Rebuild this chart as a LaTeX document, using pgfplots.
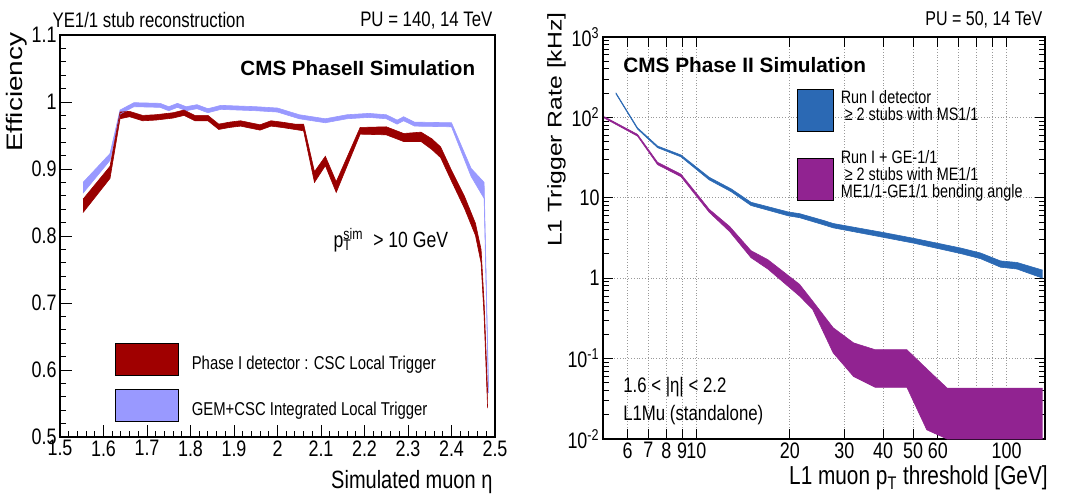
\documentclass[border=0pt]{standalone}
\usepackage{fontspec}
\setmainfont{Liberation Sans}[FakeStretch=0.8]
\newfontfamily\titlefont{Liberation Sans}
\newfontfamily\rotfont{Liberation Sans}[FakeStretch=1.25]
\usepackage{pgfplots}
\usepackage{pgfplotstable}
\pgfplotsset{compat=1.18}
\usepgfplotslibrary{fillbetween}
\definecolor{cmsred}{RGB}{153,0,0}
\definecolor{legred}{RGB}{160,0,0}
\definecolor{cmslav}{RGB}{153,153,255}
\definecolor{runblue}{RGB}{43,105,180}
\definecolor{gepurple}{RGB}{145,35,145}

% Phase I detector : CSC Local Trigger
\pgfplotstableread{
x lo hi
1.553 0.835 0.855
1.615 0.886 0.904
1.638 0.975 0.985
1.660 0.978 0.986
1.690 0.972 0.980
1.720 0.973 0.981
1.760 0.976 0.984
1.785 0.980 0.988
1.810 0.972 0.980
1.840 0.972 0.980
1.865 0.959 0.967
1.890 0.962 0.970
1.915 0.964 0.972
1.960 0.958 0.966
1.985 0.964 0.972
2.010 0.962 0.970
2.040 0.959 0.967
2.060 0.957 0.967
2.085 0.880 0.896
2.110 0.905 0.919
2.135 0.865 0.881
2.190 0.952 0.962
2.250 0.951 0.963
2.290 0.941 0.953
2.330 0.941 0.955
2.355 0.929 0.945
2.375 0.917 0.933
2.400 0.882 0.898
2.430 0.841 0.859
2.455 0.801 0.819
2.468 0.760 0.780
2.475 0.680 0.700
2.483 0.543 0.567
}\redband

% GEM+CSC Integrated Local Trigger
\pgfplotstableread{
x lo hi
1.553 0.864 0.880
1.615 0.913 0.923
1.638 0.982 0.988
1.670 0.993 0.999
1.730 0.992 0.998
1.750 0.987 0.993
1.770 0.992 0.998
1.790 0.987 0.993
1.815 0.990 0.996
1.840 0.984 0.990
1.870 0.989 0.995
1.950 0.987 0.993
2.000 0.985 0.991
2.050 0.975 0.981
2.110 0.969 0.975
2.160 0.975 0.981
2.210 0.977 0.983
2.250 0.975 0.981
2.275 0.967 0.973
2.290 0.972 0.978
2.315 0.964 0.970
2.400 0.963 0.969
2.445 0.889 0.901
2.475 0.856 0.880
2.485 0.566 0.574
}\lavband

% Run I detector
\pgfplotstableread{
x lo hi
5.50 197.3 202.8
6.46 71.6 74.2
7.50 42.0 44.0
8.92 32.3 34.1
11.0 16.7 18.0
12.95 11.9 12.9
15.0 8.02 8.80
19.8 5.96 6.66
21.5 5.66 6.36
25.9 4.57 5.18
27.6 4.23 4.79
40.1 3.22 3.70
50.1 2.73 3.14
70.9 2.03 2.38
82.4 1.75 2.06
95.6 1.37 1.64
108 1.30 1.57
130.7 1.00 1.26
}\blueband

% Run I + GE-1/1
\pgfplotstableread{
x lo hi
5.05 98 102
6.46 58.5 61.5
7.50 25.8 27.6
8.92 18.3 19.7
11.0 6.6 7.2
12.8 3.8 4.4
15.0 1.8 2.2
17.0 1.3 1.7
21.5 0.60 0.84
23.7 0.41 0.52
27.6 0.118 0.242
32.1 0.060 0.157
37.7 0.044 0.129
47.7 0.044 0.129
55.3 0.013 0.0745
64.3 0.010 0.043
130.7 0.010 0.043
}\purpleband

\newcommand\ticksize{\fontsize{11.2}{13}\selectfont}

\begin{document}
\begin{tikzpicture}

% ---------------- left panel ----------------
\begin{axis}[
  at={(30pt,30.5pt)}, anchor=south west,
  scale only axis, width=217.5pt, height=201pt,
  clip=false,
  xmin=1.5, xmax=2.5, ymin=0.5, ymax=1.1,
  xtick={1.5,1.6,1.7,1.8,1.9,2,2.1,2.2,2.3,2.4,2.5},
  ytick={0.5,0.6,0.7,0.8,0.9,1,1.1},
  minor x tick num=4, minor y tick num=4,
  tick pos=left, tick align=inside,
  major tick length=6pt, minor tick length=3pt,
  axis line style={line width=0.6pt},
  every tick/.style={black, line width=0.5pt},
  tick label style={font=\ticksize, inner sep=1.5pt},
  /pgf/number format/assume math mode=true,
  xlabel={Simulated muon η},
  x label style={at={(axis description cs:0.995,-0.127)}, anchor=base east, inner sep=0pt,
    font=\fontsize{12.5}{14}\selectfont},
  ylabel={Efficiency},
  y label style={at={(axis description cs:-0.1,1.007)}, anchor=east, inner sep=0pt,
    font=\rotfont\fontsize{11.2}{14}\selectfont},
  legend style={at={(axis description cs:0.126,0.234)}, anchor=north west,
    draw=none, fill=none, inner sep=0pt, outer sep=0pt, nodes={inner sep=0pt}, row sep=6.5pt,
    font=\fontsize{9.3}{11}\selectfont,
    /tikz/every odd column/.append style={column sep=6.5pt}},
  legend cell align=left,
  legend image code/.code={\filldraw[draw=black, line width=0.5pt] (0pt,-5.75pt) rectangle (31.5pt,10.25pt);},
]
\addplot[name path=lU, draw=cmslav, line width=0.3pt, forget plot] table[x=x,y=hi]{\lavband};
\addplot[name path=lL, draw=cmslav, line width=0.3pt, forget plot] table[x=x,y=lo]{\lavband};
\addplot[fill=cmslav, draw=none, forget plot] fill between[of=lU and lL];
\addplot[name path=rU, draw=cmsred, line width=0.3pt, forget plot] table[x=x,y=hi]{\redband};
\addplot[name path=rL, draw=cmsred, line width=0.3pt, forget plot] table[x=x,y=lo]{\redband};
\addplot[fill=cmsred, draw=none, forget plot] fill between[of=rU and rL];

\addlegendimage{fill=legred}
\addlegendentry{Phase I detector : CSC Local Trigger}
\addlegendimage{fill=cmslav}
\addlegendentry{GEM+CSC Integrated Local Trigger}

\node[anchor=west, inner sep=0pt, font={\titlefont\bfseries\fontsize{10.3}{12}\selectfont}] at (rel axis cs:0.414,0.918) {CMS PhaseII Simulation};
\node[anchor=west, inner sep=0pt, font=\fontsize{11}{12}\selectfont] at (rel axis cs:0.628,0.49) {p\rlap{\textsuperscript{sim}}\textsubscript{T}\hspace{0.75em} > 10 GeV};
\node[anchor=west, inner sep=0pt, font=\fontsize{10.5}{12}\selectfont] at (rel axis cs:-0.018,1.037) {YE1/1 stub reconstruction};
\node[anchor=east, inner sep=0pt, font=\fontsize{10.5}{12}\selectfont] at (rel axis cs:0.995,1.037) {PU = 140, 14 TeV};
\end{axis}

% ---------------- right panel ----------------
\begin{axis}[
  at={(301.5pt,29.5pt)}, anchor=south west,
  scale only axis, width=221pt, height=201pt,
  clip=false,
  xmode=log, ymode=log,
  xmin=5, xmax=133, ymin=0.01, ymax=1000,
  xtick={6,7,8,9,10,20,30,40,50,60,70,80,90,100},
  xticklabels={6,7,8,9,10,20,30,40,50,60,,,,100},
  ytick={0.01,0.1,1,10,100,1000},
  yticklabels={10\textsuperscript{-2},10\textsuperscript{-1},1,10,10\textsuperscript{2},10\textsuperscript{3}},
  minor ytick={0.02,0.03,0.04,0.05,0.06,0.07,0.08,0.09,0.2,0.3,0.4,0.5,0.6,0.7,0.8,0.9,2,3,4,5,6,7,8,9,20,30,40,50,60,70,80,90,200,300,400,500,600,700,800,900},
  tick align=inside,
  major tick length=5pt, minor tick length=3pt,
  axis line style={line width=0.6pt},
  every tick/.style={black, line width=0.5pt},
  grid=major,
  major grid style={densely dotted, black!40, line width=0.4pt},
  tick label style={font=\ticksize, inner sep=1.5pt},
  xlabel={L1 muon p\textsubscript{T} threshold [GeV]},
  x label style={at={(axis description cs:1.007,-0.114)}, anchor=base east, inner sep=0pt,
    font=\fontsize{13}{14}\selectfont},
  ylabel={L1 Trigger Rate [kHz]},
  y label style={at={(axis description cs:-0.105,1.062)}, anchor=east, inner sep=0pt,
    font=\rotfont\fontsize{9.9}{12}\selectfont},
  legend style={at={(axis description cs:0.439,0.87)}, anchor=north west,
    draw=none, fill=none, inner sep=0pt, outer sep=0pt,
    nodes={inner sep=0pt, align=left}, row sep=9pt,
    font=\fontsize{9}{8.5}\selectfont,
    /tikz/every odd column/.append style={column sep=3.5pt}},
  legend cell align=left,
  legend image code/.code={\fill (0pt,-12.5pt) rectangle (18pt,8.5pt);},
]
\addplot[name path=bU, draw=runblue, line width=0.3pt, forget plot] table[x=x,y=hi]{\blueband};
\addplot[name path=bL, draw=runblue, line width=0.3pt, forget plot] table[x=x,y=lo]{\blueband};
\addplot[fill=runblue, draw=none, forget plot] fill between[of=bU and bL];
\addplot[name path=pU, draw=gepurple, line width=0.3pt, forget plot] table[x=x,y=hi]{\purpleband};
\addplot[name path=pL, draw=gepurple, line width=0.3pt, forget plot] table[x=x,y=lo]{\purpleband};
\addplot[fill=gepurple, draw=none, forget plot] fill between[of=pU and pL];

\addlegendimage{fill=runblue}
\addlegendentry{Run I detector\\\ ≥ 2 stubs with MS1/1}
\addlegendimage{fill=gepurple}
\addlegendentry{Run I + GE-1/1\\\ ≥ 2 stubs with ME1/1\\ME1/1-GE1/1 bending angle}

\node[anchor=west, inner sep=0pt, font={\titlefont\bfseries\fontsize{10.4}{12}\selectfont}] at (rel axis cs:0.045,0.93) {CMS Phase II Simulation};
\node[anchor=west, inner sep=0pt, font=\fontsize{10.5}{12}\selectfont] at (rel axis cs:0.045,0.129) {1.6 < |η| < 2.2};
\node[anchor=west, inner sep=0pt, font=\fontsize{10.5}{12}\selectfont] at (rel axis cs:0.045,0.06) {L1Mu (standalone)};
\node[anchor=east, inner sep=0pt, font=\fontsize{10}{12}\selectfont] at (rel axis cs:0.995,1.042) {PU = 50, 14 TeV};
\end{axis}

\pgfresetboundingbox
\path[use as bounding box] (0,0) rectangle (535.5pt,249pt);
\end{tikzpicture}
\end{document}
